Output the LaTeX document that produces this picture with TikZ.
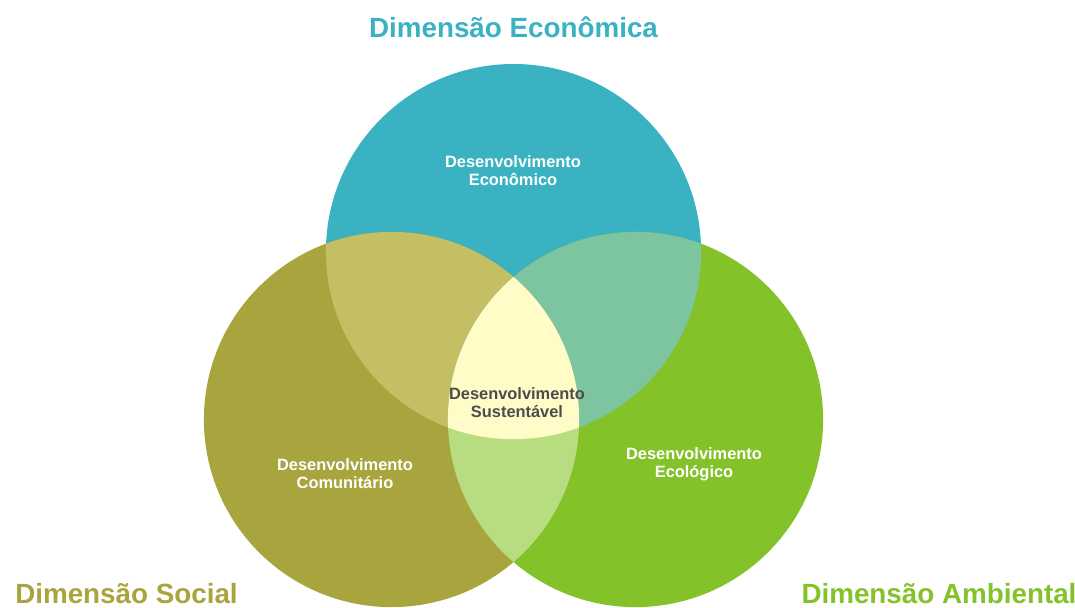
\documentclass[tikz,border=0pt]{standalone}
\usepackage{fontspec}
\setmainfont{Liberation Sans}
\usepackage{tikz}

\definecolor{econ}{HTML}{3AB2C2}
\definecolor{soc}{HTML}{A8A53F}
\definecolor{amb}{HTML}{84C22A}
\definecolor{socecon}{HTML}{C4BF65}
\definecolor{econamb}{HTML}{7CC5A0}
\definecolor{socamb}{HTML}{B8DC80}
\definecolor{sust}{HTML}{FFFCC8}

\begin{document}
\begin{tikzpicture}[
  x=0.5pt, y=-0.5pt,
  title/.style={font=\bfseries\fontsize{13.9}{16}\selectfont, anchor=base},
  inner/.style={font=\bfseries\fontsize{8.2}{9}\selectfont, align=center, inner sep=0pt}
]
  \useasboundingbox (0,0) rectangle (1075,607);

  %% Centres
  \coordinate (e) at (513.5,251.6);
  \coordinate (s) at (391.5,419.5);
  \coordinate (a) at (635.5,419.5);

  %% Circles
  \fill[econ] (e) circle[radius=93.8pt];
  \fill[soc] (s) circle[radius=93.8pt];
  \fill[amb] (a) circle[radius=93.8pt];

  %% Overlaps
  \begin{scope}
    \clip (e) circle[radius=93.8pt];
    \fill[socecon] (s) circle[radius=93.8pt];
  \end{scope}
  \begin{scope}
    \clip (e) circle[radius=93.8pt];
    \fill[econamb] (a) circle[radius=93.8pt];
  \end{scope}
  \begin{scope}
    \clip (s) circle[radius=93.8pt];
    \fill[socamb] (a) circle[radius=93.8pt];
  \end{scope}
  \begin{scope}
    \clip (e) circle[radius=93.8pt];
    \clip (s) circle[radius=93.8pt];
    \fill[sust] (a) circle[radius=93.8pt];
  \end{scope}

  %% Labels
  \node[inner, text=white] (deco) at (513,171) {Desenvolvimento\\Econômico};
  \node[inner, text=black!70] (dsus) at (517,403) {Desenvolvimento\\Sustentável};
  \node[inner, text=white] (dcom) at (345,474) {Desenvolvimento\\Comunitário};
  \node[inner, text=white] (deco2) at (694,464) {Desenvolvimento\\Ecológico};

  %% Titles
  \node[title, text=econ] (teco) at (513.5,37) {Dimensão Econômica};
  \node[title, text=soc] (tsoc) at (126.5,603) {Dimensão Social};
  \node[title, text=amb] (tamb) at (939,603) {Dimensão Ambiental};
\end{tikzpicture}
\end{document}
